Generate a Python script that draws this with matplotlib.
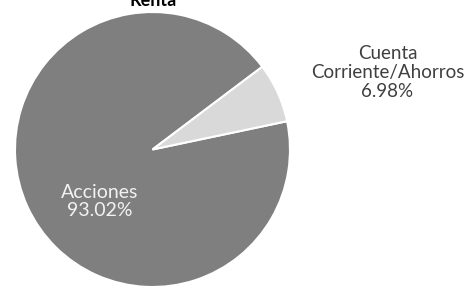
import matplotlib.pyplot as plt
import numpy as np

plt.rcParams['font.family'] = ['Lato', 'DejaVu Sans']

categories = ["Acciones", "Cuenta\nCorriente/Ahorros"]
values = [93.02, 6.98]
colors = ["#7f7f7f", "#d9d9d9"]
title = "Renta"

fig = plt.figure(figsize=(4.69, 2.89), dpi=100)
ax = fig.add_axes([0, 0, 1, 1])

# pie drawn in pixel-like coordinates
cx, cy, r = 152.5, 289 - 149.5, 137.5
ax.pie(values, colors=colors, startangle=37, counterclock=True,
       explode=[0, 0.035], center=(cx, cy), radius=r,
       wedgeprops=dict(edgecolor="white", linewidth=1.5))
ax.set_xlim(0, 469)
ax.set_ylim(0, 289)
ax.set_aspect("equal")
ax.axis("off")

pct = [v / sum(values) * 100 for v in values]
ax.text(cx - 53, cy - 52, f"{categories[0]}\n{pct[0]:.2f}%", ha="center", va="center",
        color="#f2f2f2", fontsize=14, linespacing=1.1)
ax.text(cx + 235, cy + 77, f"{categories[1]}\n{pct[1]:.2f}%", ha="center", va="center",
        color="#404040", fontsize=13.5, linespacing=1.15)

fig.text(153 / 469, 1.0, title, ha="center", va="center", fontsize=13,
         fontweight="bold", color="black")

plt.savefig("out.png", dpi=100)
